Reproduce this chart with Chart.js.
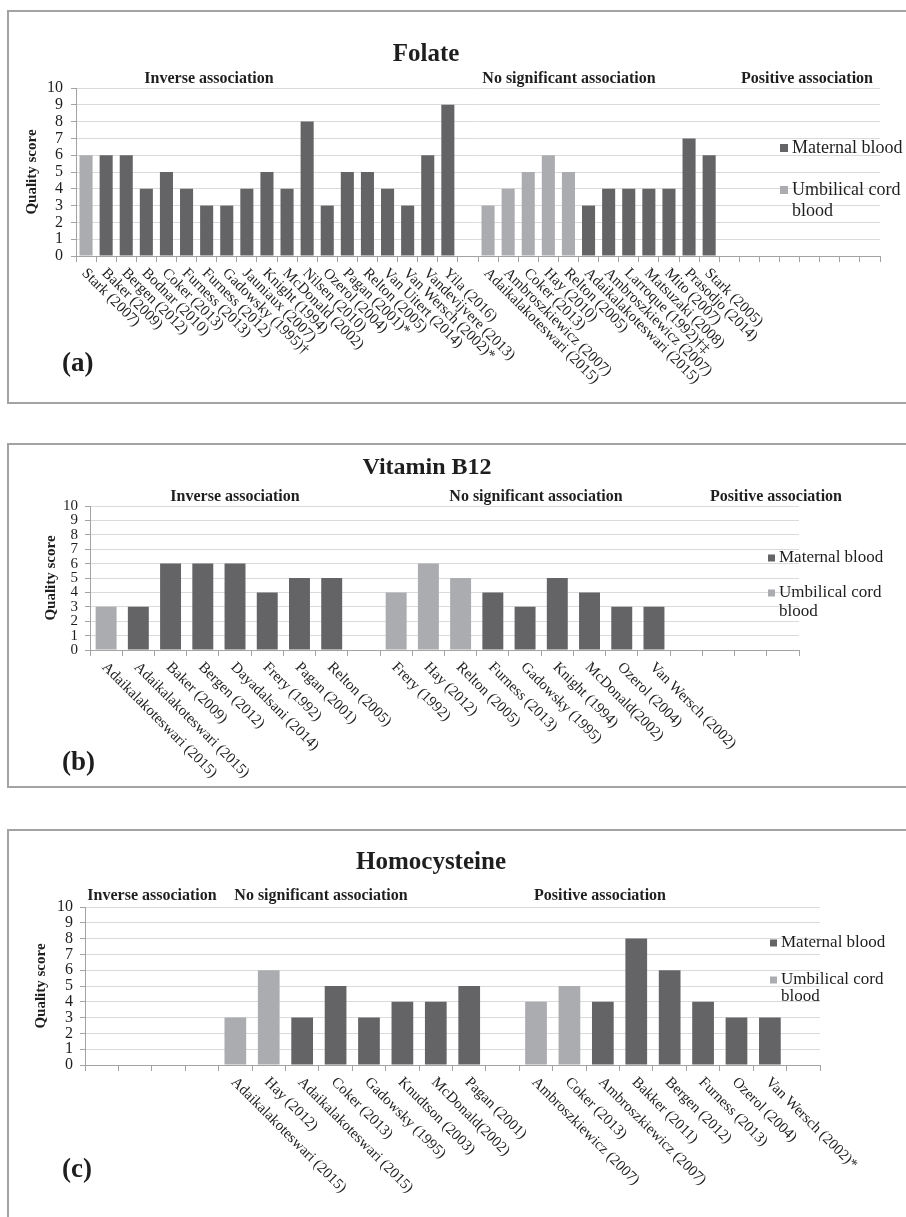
<!DOCTYPE html>
<html>
<head>
<meta charset="utf-8">
<script src="https://cdn.jsdelivr.net/npm/chart.js@4.4.1/dist/chart.umd.min.js"></script>
<style>
  html, body { margin: 0; padding: 0; background: #fff; }
  body { width: 906px; height: 1217px; overflow: hidden; position: relative; }
  .box { position: absolute; left: 7px; width: 1000px; border: 2px solid #a3a3a3; }
  canvas { position: absolute; left: 0; }
</style>
</head>
<body>
<div class="box" style="top:10px;height:390px"></div>
<div class="box" style="top:443px;height:341px"></div>
<div class="box" style="top:829px;height:500px"></div>
<canvas id="chartFolate" width="906" height="410" style="top:0px"></canvas>
<canvas id="chartB12" width="906" height="370" style="top:430px"></canvas>
<canvas id="chartHcy" width="906" height="402" style="top:815px"></canvas>
<script>
'use strict';

/* ── DATA ──────────────────────────────────────────────────────── */
var SERIES_NAMES = ['Maternal blood', 'Umbilical cord blood'];
var SECTIONS     = ['Inverse association', 'No significant association', 'Positive association'];

var FOLATE_LABELS = [
  'Stark (2007)', 'Baker (2009)', 'Bergen (2012)', 'Bodnar (2010)', 'Coker (2013)',
  'Furness (2013)', 'Furness (2012)', 'Gadowsky (1995)\u2020', 'Jauniaux (2007)', 'Knight (1994)',
  'McDonald (2002)', 'Nilsen (2010)', 'Ozerol (2004)', 'Pagan (2001)*', 'Relton (2005)',
  'Van Uitert (2014)', 'Van Wersch (2002)*', 'Vandevijvere (2013)', 'Yila (2016)', '',
  'Adaikalakoteswari (2015)', 'Ambroszkiewicz (2007)', 'Coker (2013)', 'Hay (2010)', 'Relton (2005)',
  'Adaikalakoteswari (2015)', 'Ambroszkiewicz (2007)', 'Larroque (1992)\u2020\u2021', 'Matsuzaki (2008)', 'Mito (2007)',
  'Prasodjo (2014)', 'Stark (2005)', '', '', '', '', '', '', '', ''
];
var FOLATE_MATERNAL = [
  null, 6, 6, 4, 5, 4, 3, 3, 4, 5, 4, 8, 3, 5, 5, 4, 3, 6, 9, null,
  null, null, null, null, null, 3, 4, 4, 4, 4, 7, 6,
  null, null, null, null, null, null, null, null
];
var FOLATE_CORD = [
  6, null, null, null, null, null, null, null, null, null, null, null, null, null, null, null, null, null, null, null,
  3, 4, 5, 6, 5, null, null, null, null, null, null, null,
  null, null, null, null, null, null, null, null
];

var B12_LABELS = [
  'Adaikalakoteswari (2015)', 'Adaikalakoteswari (2015)', 'Baker (2009)', 'Bergen (2012)', 'Dayadalsani (2014)',
  'Frery (1992)', 'Pagan (2001)', 'Relton (2005)', '',
  'Frery (1992)', 'Hay (2012)', 'Relton (2005)', 'Furness (2013)', 'Gadowsky (1995)',
  'Knight (1994)', 'McDonald(2002)', 'Ozerol (2004)', 'Van Wersch (2002)', '', '', '', ''
];
var B12_MATERNAL = [null, 3, 6, 6, 6, 4, 5, 5, null, null, null, null, 4, 3, 5, 4, 3, 3, null, null, null, null];
var B12_CORD     = [3, null, null, null, null, null, null, null, null, 4, 6, 5, null, null, null, null, null, null, null, null, null, null];

var HCY_LABELS = [
  '', '', '', '',
  'Adaikalakoteswari (2015)', 'Hay (2012)', 'Adaikalakoteswari (2015)', 'Coker (2013)', 'Gadowsky (1995)',
  'Knudtson (2003)', 'McDonald(2002)', 'Pagan (2001)', '',
  'Ambroszkiewicz (2007)', 'Coker (2013)', 'Ambroszkiewicz (2007)', 'Bakker (2011)', 'Bergen (2012)',
  'Furness (2013)', 'Ozerol (2004)', 'Van Wersch (2002)*', ''
];
var HCY_MATERNAL = [null, null, null, null, null, null, 3, 5, 3, 4, 4, 5, null, null, null, 4, 8, 6, 4, 3, 3, null];
var HCY_CORD     = [null, null, null, null, 3, 6, null, null, null, null, null, null, null, 4, 5, null, null, null, null, null, null, null];

/* ── STYLE ─────────────────────────────────────────────────────── */
var SERIF      = "'Liberation Serif', 'Times New Roman', serif";
var TEXT       = '#1e1e1e';
var C_MATERNAL = '#646467';
var C_CORD     = '#abacaf';
var C_GRID     = '#dadada';
var C_AXIS     = '#a3a3a3';

/* ── DECORATION PLUGIN: titles, section headers, rotated labels, legend ── */
var panelDecor = {
  id: 'panelDecor',
  afterDraw: function(chart, args, o) {
    var ctx  = chart.ctx;
    var xs   = chart.scales.x;
    var area = chart.chartArea;
    ctx.save();
    ctx.fillStyle = TEXT;

    /* title */
    ctx.font = 'bold ' + o.titleSize + 'px ' + SERIF;
    ctx.textAlign = 'center';
    ctx.textBaseline = 'middle';
    ctx.fillText(o.title, o.titleX, o.titleY);

    /* section headers */
    ctx.font = 'bold 16px ' + SERIF;
    SECTIONS.forEach(function(s, i) {
      ctx.fillText(s, o.sectionX[i], o.sectionY);
    });

    /* y axis title */
    ctx.save();
    ctx.translate(o.yTitleX, (area.top + area.bottom) / 2);
    ctx.rotate(-Math.PI / 2);
    ctx.font = 'bold 15px ' + SERIF;
    ctx.fillText('Quality score', 0, 0);
    ctx.restore();

    /* category labels, 45 degrees clockwise, starting at the tick */
    ctx.font = '15px ' + SERIF;
    ctx.textAlign = 'left';
    chart.data.labels.forEach(function(lab, i) {
      if (!lab) return;
      var x = xs.getPixelForValue(i);
      ctx.save();
      ctx.translate(x - 2, area.bottom + 15);
      ctx.rotate(Math.PI / 4);
      ctx.fillText(lab, 0, 0);
      ctx.restore();
    });

    /* legend */
    var lg = o.legend;
    ctx.font = lg.size + 'px ' + SERIF;
    chart.data.datasets.forEach(function(ds, i) {
      var cy = lg.rows[i];
      ctx.fillStyle = ds.backgroundColor;
      ctx.fillRect(lg.x, cy - lg.box / 2, lg.box, lg.box);
      ctx.fillStyle = TEXT;
      var lines = i === 1 ? ['Umbilical cord', 'blood'] : [ds.label];
      lines.forEach(function(t, k) {
        ctx.fillText(t, lg.x + lg.box + 4, cy + k * lg.lineGap);
      });
    });

    /* panel letter */
    ctx.font = 'bold 27px ' + SERIF;
    ctx.fillText(o.letter, 62, o.letterY);
    ctx.restore();
  }
};

/* ── PANEL FACTORY ─────────────────────────────────────────────── */
function makePanel(id, labels, maternal, cord, L) {
  var canvas = document.getElementById(id);
  var H = canvas.height;
  return new Chart(canvas, {
    type: 'bar',
    data: {
      labels: labels,
      datasets: [
        { label: SERIES_NAMES[0], data: maternal, backgroundColor: C_MATERNAL },
        { label: SERIES_NAMES[1], data: cord,     backgroundColor: C_CORD }
      ]
    },
    options: {
      responsive: false,
      animation: false,
      datasets: { bar: { grouped: false, barPercentage: 0.65, categoryPercentage: 1, borderWidth: 0 } },
      layout: { padding: { left: 0, top: L.top, right: 906 - L.right, bottom: H - L.bottom - 6 } },
      scales: {
        x: {
          offset: true,
          grid: { offset: true, drawOnChartArea: false, drawTicks: true, tickLength: 6, tickColor: C_AXIS },
          border: { color: C_AXIS, width: 1 },
          ticks: { display: false, autoSkip: false },
          afterFit: function(s) { s.height = 6; }
        },
        y: {
          min: 0, max: 10,
          grid: { color: C_GRID, tickLength: 5, tickColor: C_AXIS },
          border: { color: C_AXIS, width: 1 },
          ticks: { stepSize: 1, autoSkip: false, padding: L.tickPad, color: TEXT, font: { family: SERIF, size: L.tickSize } },
          afterFit: function(s) { s.width = L.left; }
        }
      },
      plugins: {
        legend: { display: false },
        tooltip: { enabled: false },
        panelDecor: L.decor
      }
    },
    plugins: [panelDecor]
  });
}

/* ── PANELS ────────────────────────────────────────────────────── */
makePanel('chartFolate', FOLATE_LABELS, FOLATE_MATERNAL, FOLATE_CORD, {
  left: 76, right: 880, top: 88, bottom: 256, tickPad: 8, tickSize: 16,
  decor: {
    title: 'Folate', titleSize: 25, titleX: 426, titleY: 55,
    sectionX: [209, 569, 807], sectionY: 79, yTitleX: 32,
    legend: { x: 780, box: 8, size: 18, rows: [148, 190], lineGap: 21 },
    letter: '(a)', letterY: 364
  }
});

makePanel('chartB12', B12_LABELS, B12_MATERNAL, B12_CORD, {
  left: 90, right: 799, top: 76, bottom: 220, tickPad: 7, tickSize: 15,
  decor: {
    title: 'Vitamin B12', titleSize: 24, titleX: 427, titleY: 38,
    sectionX: [235, 536, 776], sectionY: 67, yTitleX: 51,
    legend: { x: 768, box: 7, size: 17, rows: [128, 163], lineGap: 19 },
    letter: '(b)', letterY: 333
  }
});

makePanel('chartHcy', HCY_LABELS, HCY_MATERNAL, HCY_CORD, {
  left: 85, right: 820, top: 92, bottom: 250, tickPad: 7, tickSize: 16,
  decor: {
    title: 'Homocysteine', titleSize: 25, titleX: 431, titleY: 48,
    sectionX: [152, 321, 600], sectionY: 81, yTitleX: 41,
    legend: { x: 770, box: 7, size: 17, rows: [128, 165], lineGap: 17 },
    letter: '(c)', letterY: 355
  }
});
</script>
</body>
</html>
